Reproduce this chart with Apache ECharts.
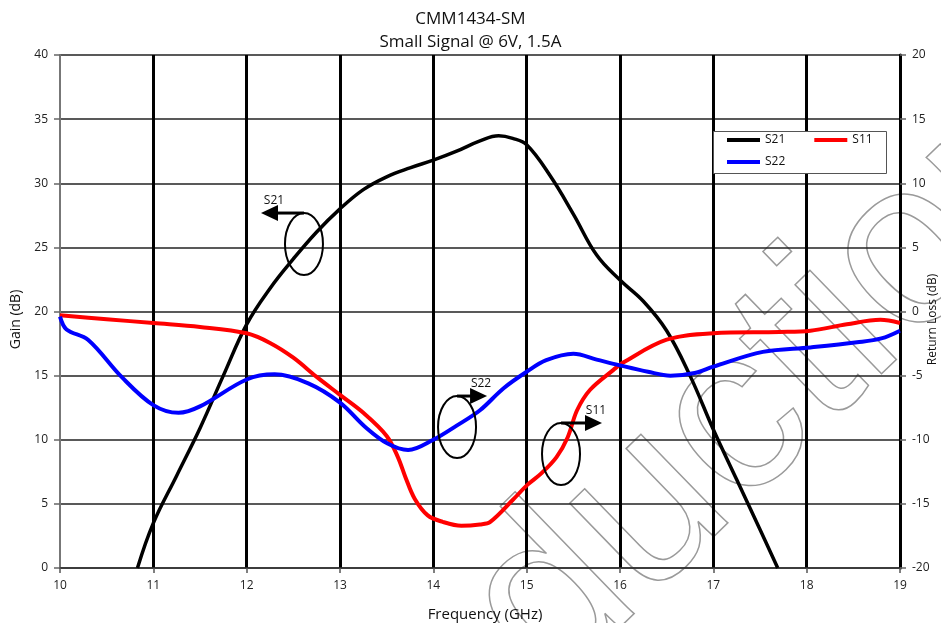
<!DOCTYPE html>
<html>
<head>
<meta charset="utf-8">
<script src="https://cdn.jsdelivr.net/npm/echarts@6/dist/echarts.min.js"></script>
<style>
html,body{margin:0;padding:0;background:#fff;}
#chart{width:941px;height:623px;}
</style>
</head>
<body>
<div id="chart"></div>
<script>
var titleLines = ['CMM1434-SM', 'Small Signal @ 6V, 1.5A'];
var seriesNames = ['S21', 'S11', 'S22'];
var xTicks = [10, 11, 12, 13, 14, 15, 16, 17, 18, 19];
var gainTicks = [0, 5, 10, 15, 20, 25, 30, 35, 40];
var rlTicks = [-20, -15, -10, -5, 0, 5, 10, 15, 20];

var freqS21 = [10.83, 11.0, 11.25, 11.5, 11.75, 12.0, 12.25, 12.5, 12.75, 13.0, 13.25, 13.5, 13.75, 14.0, 14.25, 14.5, 14.7, 14.85, 15.0, 15.25, 15.5, 15.75, 16.0, 16.25, 16.5, 16.75, 17.0, 17.25, 17.5, 17.69];
var s21 = [0, 3.5, 7.2, 10.9, 15.0, 19.0, 21.8, 24.1, 26.2, 28.0, 29.5, 30.5, 31.2, 31.8, 32.5, 33.3, 33.7, 33.5, 33.0, 30.6, 27.6, 24.4, 22.45, 20.8, 18.5, 15.0, 10.8, 6.9, 3.0, 0];

var freqS11 = [10.0, 10.5, 11.0, 11.5, 12.0, 12.25, 12.5, 12.75, 13.0, 13.25, 13.5, 13.62, 13.7, 13.8, 13.94, 14.1, 14.3, 14.5, 14.61, 14.85, 15.01, 15.16, 15.32, 15.44, 15.54, 15.68, 15.93, 16.03, 16.5, 17.0, 17.71, 18.04, 18.43, 18.79, 19.0];
var s11 = [-0.3, -0.6, -0.9, -1.2, -1.7, -2.45, -3.6, -5.1, -6.5, -7.9, -9.7, -11.35, -12.9, -14.6, -15.9, -16.4, -16.7, -16.6, -16.4, -14.7, -13.5, -12.6, -11.35, -9.8, -7.7, -6.1, -4.55, -4.0, -2.2, -1.7, -1.6, -1.5, -1.0, -0.65, -0.9];

var freqS22 = [10.0, 10.07, 10.3, 10.66, 11.0, 11.27, 11.5, 12.0, 12.3, 12.66, 13.0, 13.27, 13.51, 13.73, 14.0, 14.25, 14.5, 14.75, 15.0, 15.21, 15.5, 15.75, 16.0, 16.3, 16.54, 16.8, 17.0, 17.53, 18.04, 18.54, 18.8, 19.0];
var s22 = [-0.4, -1.4, -2.2, -5.1, -7.3, -7.9, -7.4, -5.3, -4.9, -5.6, -7.1, -9.0, -10.3, -10.8, -10.0, -8.9, -7.7, -6.0, -4.7, -3.8, -3.3, -3.75, -4.2, -4.7, -5.0, -4.8, -4.3, -3.15, -2.8, -2.4, -2.1, -1.5];

// annotation anchors (frequency, gain-axis value) with arrow direction
var annotations = [
  {label: 'S21', f: 12.614, g: 25.26, dir: -1, len: 43},
  {label: 'S22', f: 14.254, g: 10.99, dir: 1, len: 30},
  {label: 'S11', f: 15.368, g: 8.89, dir: 1, len: 41}
];
var watermarkText = 'Production';

function pairs(xs, ys) { return xs.map(function (x, i) { return [x, ys[i]]; }); }

var FONT = '"Open Sans", "Noto Sans", sans-serif';
var chart = echarts.init(document.getElementById('chart'));
var vColors = xTicks.map(function (t, i) { return i === 0 ? 'rgba(0,0,0,0)' : '#000'; });

chart.setOption({
  animation: false,
  backgroundColor: '#fff',
  textStyle: {fontFamily: FONT},
  title: {
    text: titleLines.join('\n'),
    left: 'center', top: 3,
    textStyle: {fontSize: 17, fontWeight: 'normal', color: '#111', lineHeight: 23, fontFamily: FONT}
  },
  legend: [{
    data: seriesNames.slice(0, 2),
    left: 727, top: 134, padding: 0, itemGap: 29,
    itemWidth: 33, itemHeight: 4, icon: 'rect', z: 6,
    textStyle: {fontSize: 12, color: '#111', fontFamily: FONT}
  }, {
    data: seriesNames.slice(2),
    left: 727, top: 156, padding: 0,
    itemWidth: 33, itemHeight: 4, icon: 'rect', z: 6,
    textStyle: {fontSize: 12, color: '#111', fontFamily: FONT}
  }],
  grid: {left: 60, right: 41, top: 55, bottom: 55, containLabel: false, outerBoundsMode: 'none'},
  xAxis: {
    type: 'value', min: xTicks[0], max: xTicks[xTicks.length - 1], interval: 1,
    name: 'Frequency (GHz)', nameLocation: 'middle', nameGap: 39, nameMoveOverlap: false,
    nameTextStyle: {fontSize: 15, color: '#111', fontFamily: FONT, padding: [0, 0, 0, 10]},
    axisLine: {show: true, onZero: false, lineStyle: {color: '#333', width: 1.5}},
    axisTick: {show: true, length: 5, lineStyle: {color: '#555', width: 1.5}},
    axisLabel: {fontSize: 12, color: '#222', margin: 12},
    splitLine: {show: true, lineStyle: {color: vColors, width: 3}}
  },
  yAxis: [{
    type: 'value', min: gainTicks[0], max: gainTicks[gainTicks.length - 1], interval: 5,
    name: 'Gain (dB)', nameLocation: 'middle', nameGap: 37, nameRotate: 90, nameMoveOverlap: false,
    nameTextStyle: {fontSize: 14, color: '#111', fontFamily: FONT, padding: [0, 16, 0, 0]},
    axisLine: {show: true, lineStyle: {color: '#777', width: 2}},
    axisTick: {show: true, length: 6, lineStyle: {color: '#666', width: 1.5}},
    axisLabel: {fontSize: 12, color: '#222', margin: 12},
    splitLine: {show: true, lineStyle: {color: '#222', width: 1.5}}
  }, {
    type: 'value', min: rlTicks[0], max: rlTicks[rlTicks.length - 1], interval: 5,
    position: 'right',
    name: 'Return Loss (dB)', nameLocation: 'middle', nameGap: 27, nameRotate: 90, nameMoveOverlap: false,
    nameTextStyle: {fontSize: 12, color: '#111', fontFamily: FONT, padding: [0, 16, 0, 0]},
    axisLine: {show: true, lineStyle: {color: '#000', width: 3}},
    axisTick: {show: true, length: 6, lineStyle: {color: '#666', width: 1.5}},
    axisLabel: {fontSize: 12, color: '#222', margin: 12},
    splitLine: {show: false}
  }],
  series: [{
    name: seriesNames[0], type: 'line', yAxisIndex: 0, data: pairs(freqS21, s21),
    smooth: 0.4, showSymbol: false, color: '#000', lineStyle: {width: 3.5}, z: 3
  }, {
    name: seriesNames[1], type: 'line', yAxisIndex: 1, data: pairs(freqS11, s11),
    smooth: 0.35, showSymbol: false, color: '#ff0000', lineStyle: {width: 4}, z: 3
  }, {
    name: seriesNames[2], type: 'line', yAxisIndex: 1, data: pairs(freqS22, s22),
    smooth: 0.35, showSymbol: false, color: '#0000ff', lineStyle: {width: 4}, z: 3
  }]
});

var g = [];
// watermark
g.push({
  type: 'text', x: 647, y: 511, rotation: 0.77, z: -10, silent: true,
  style: {text: watermarkText, font: '235px "Liberation Sans", Arial, sans-serif', fill: 'rgba(0,0,0,0)', stroke: '#9a9a9a', lineWidth: 1.5,
          textAlign: 'center', textVerticalAlign: 'middle'}
});
// legend box
g.push({
  type: 'rect', z: 4, shape: {x: 713.5, y: 131.5, width: 173, height: 42},
  style: {fill: '#fff', stroke: '#555', lineWidth: 1}
});
annotations.forEach(function (a) {
  var p = chart.convertToPixel({xAxisIndex: 0, yAxisIndex: 0}, [a.f, a.g]);
  var rx = 19, ry = 31;
  var topY = p[1] - ry;
  var tipX = p[0] + a.dir * a.len;
  g.push({type: 'ellipse', z: 5, shape: {cx: p[0], cy: p[1], rx: rx, ry: ry},
          style: {fill: 'none', stroke: '#000', lineWidth: 2}});
  g.push({type: 'line', z: 5, shape: {x1: p[0], y1: topY, x2: tipX - a.dir * 14, y2: topY},
          style: {stroke: '#000', lineWidth: 3}});
  g.push({type: 'polygon', z: 5, shape: {points: [[tipX, topY], [tipX - a.dir * 17, topY - 8], [tipX - a.dir * 17, topY + 8]]},
          style: {fill: '#000'}});
  var lx = a.dir < 0 ? tipX + 13 : tipX - 6;
  g.push({type: 'text', z: 5, x: lx, y: topY - 12,
          style: {text: a.label, font: '12px ' + FONT, fill: '#111', textAlign: 'center', textVerticalAlign: 'middle'}});
});
chart.setOption({graphic: g});
</script>
</body>
</html>
